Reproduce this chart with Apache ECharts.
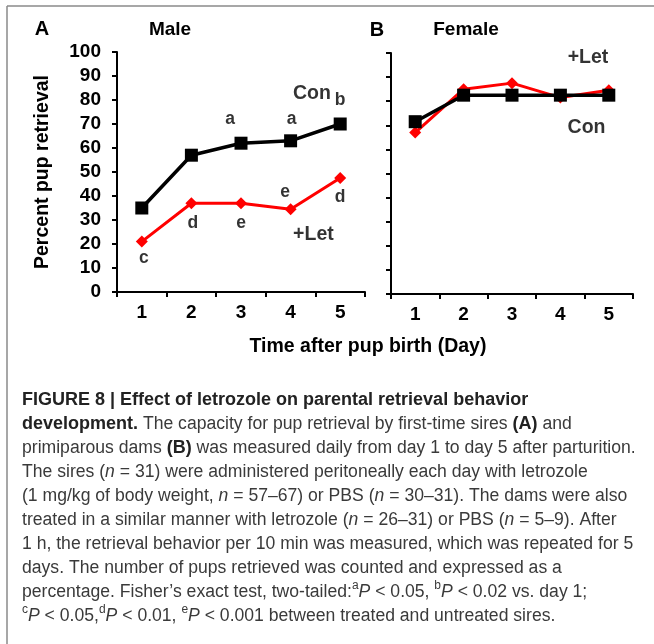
<!DOCTYPE html>
<html><head><meta charset="utf-8">
<script src="https://cdn.jsdelivr.net/npm/echarts@6/dist/echarts.min.js"></script>
<style>html,body{margin:0;padding:0;background:#fff}#c{width:654px;height:644px}</style>
</head><body><div id="c"></div>
<script>
// ---- data ----
const days = ['1', '2', '3', '4', '5'];
const yTicks = [0, 10, 20, 30, 40, 50, 60, 70, 80, 90, 100];
const maleCon = [35, 57, 62, 63, 70];
const maleLet = [21, 37, 37, 34.5, 47.5];
const femaleCon = [71.5, 82.5, 82.5, 82.5, 82.5];
const femaleLet = [67, 85, 87.5, 81.5, 84.5];
// significance letters / labels: [text, day position, value]
const notesMale = [
  ['a', 2.78, 72], ['a', 4.02, 72], ['b', 5.0, 80], ['Con', 4.43, 82.5],
  ['c', 1.04, 14], ['d', 2.03, 28.5], ['e', 3.0, 28.5], ['e', 3.89, 41.5],
  ['d', 5.0, 39.5], ['+Let', 4.46, 24]
];
const notesFemale = [['+Let', 4.57, 98], ['Con', 4.54, 69]];

const chart = echarts.init(document.getElementById('c'));
const F = 'Liberation Sans, Arial, sans-serif';
const axisLine = {show: true, onZero: false, lineStyle: {color: '#000', width: 2}};
const axisTick = {show: true, inside: false, length: 5, lineStyle: {color: '#000', width: 2}};

function catAxis(g) {
  return {type: 'category', gridIndex: g, data: days, boundaryGap: true,
    axisLine: axisLine, axisTick: axisTick,
    axisLabel: {color: '#000', fontFamily: F, fontWeight: 'bold', fontSize: 19, margin: 11},
    splitLine: {show: false}};
}
function noteAxis(g) {
  return {type: 'value', gridIndex: g, min: 0.5, max: 5.5, show: false};
}
function valAxis(g, labels) {
  return {type: 'value', gridIndex: g, min: yTicks[0], max: yTicks[yTicks.length - 1], interval: 10,
    axisLine: axisLine, axisTick: axisTick, splitLine: {show: false},
    axisLabel: {show: labels, color: '#000', fontFamily: F, fontWeight: 'bold', fontSize: 19, margin: 16},
    name: labels ? 'Percent pup retrieval' : '', nameLocation: 'middle', nameGap: 64,
    nameTextStyle: {color: '#000', fontFamily: F, fontWeight: 'bold', fontSize: 19.5}};
}
function conSeries(g, d) {
  return {type: 'line', xAxisIndex: g, yAxisIndex: g, data: d, symbol: 'rect', symbolSize: 13,
    lineStyle: {color: '#000', width: 3.5}, itemStyle: {color: '#000'}, z: 3, animation: false};
}
function letSeries(g, d) {
  return {type: 'line', xAxisIndex: g, yAxisIndex: g, data: d, symbol: 'diamond', symbolSize: 12,
    lineStyle: {color: '#ff0000', width: 3}, itemStyle: {color: '#ff0000'}, z: 2, animation: false};
}
function noteSeries(g, notes) {
  return {type: 'scatter', xAxisIndex: g + 2, yAxisIndex: g, symbolSize: 0, animation: false, silent: true,
    data: notes.map(n => ({name: n[0], value: [n[1], n[2]],
      label: {fontSize: n[0].length > 1 ? 19.5 : 17.5}})),
    label: {show: true, position: 'inside', formatter: p => p.name, color: '#000',
      fontFamily: F, fontWeight: 'bold', fontSize: 17.5},
    labelLayout: {hideOverlap: false}, z: 5};
}

function t(x, y, text, size) {
  return {type: 'text', x: x, y: y, silent: true,
    style: {text: text, fill: '#000', font: 'bold ' + size + 'px ' + F, align: 'center', verticalAlign: 'middle'}};
}

const captionLines = [
  '{b|FIGURE 8 | Effect of letrozole on parental retrieval behavior}',
  '{b|development.} The capacity for pup retrieval by first-time sires {b|(A)} and',
  'primiparous dams {b|(B)} was measured daily from day 1 to day 5 after parturition.',
  'The sires ({i|n} = 31) were administered peritoneally each day with letrozole',
  '(1 mg/kg of body weight, {i|n} = 57–67) or PBS ({i|n} = 30–31). The dams were also',
  'treated in a similar manner with letrozole ({i|n} = 26–31) or PBS ({i|n} = 5–9). After',
  '1 h, the retrieval behavior per 10 min was measured, which was repeated for 5',
  'days. The number of pups retrieved was counted and expressed as a',
  'percentage. Fisher’s exact test, two-tailed:{s|a}{i|P} < 0.05, {s|b}{i|P} < 0.02 vs. day 1;',
  '{s|c}{i|P} < 0.05,{s|d}{i|P} < 0.01, {s|e}{i|P} < 0.001 between treated and untreated sires.'
];
const CS = 17.6;
const capStyle = {fontFamily: F, fontSize: CS, lineHeight: 24, fill: '#3a3a3a'};

const option = {
  backgroundColor: '#fff',
  animation: false,
  grid: [
    {left: 117, top: 52, width: 248, height: 240, outerBoundsMode: 'none', containLabel: false},
    {left: 391, top: 53, width: 242, height: 241, outerBoundsMode: 'none', containLabel: false}
  ],
  xAxis: [catAxis(0), catAxis(1), noteAxis(0), noteAxis(1)],
  yAxis: [valAxis(0, true), valAxis(1, false)],
  series: [
    letSeries(0, maleLet), conSeries(0, maleCon),
    letSeries(1, femaleLet), conSeries(1, femaleCon),
    noteSeries(0, notesMale), noteSeries(1, notesFemale)
  ],
  graphic: [
    {type: 'line', silent: true, shape: {x1: 7, y1: 6, x2: 654, y2: 6}, style: {stroke: '#8a8a8a', lineWidth: 1.5}},
    {type: 'line', silent: true, shape: {x1: 7, y1: 6, x2: 7, y2: 644}, style: {stroke: '#8a8a8a', lineWidth: 1.5}},
    t(42, 29, 'A', 20), t(170, 30, 'Male', 19), t(377, 30, 'B', 20), t(466, 30, 'Female', 19),
    t(368, 347, 'Time after pup birth (Day)', 19.5),
    {type: 'text', x: 22, y: 388, silent: true,
      style: Object.assign({text: captionLines.join('\n'), align: 'left', verticalAlign: 'top',
        rich: {
          b: {fontFamily: F, fontSize: 18, lineHeight: 24, fontWeight: 'bold', fill: '#222'},
          i: {fontFamily: F, fontSize: CS, lineHeight: 24, fontStyle: 'italic', fill: '#3a3a3a'},
          s: {fontFamily: F, fontSize: 12, lineHeight: 14, verticalAlign: 'top', fill: '#3a3a3a'}
        }}, capStyle)}
  ]
};
chart.setOption(option);
</script></body></html>
